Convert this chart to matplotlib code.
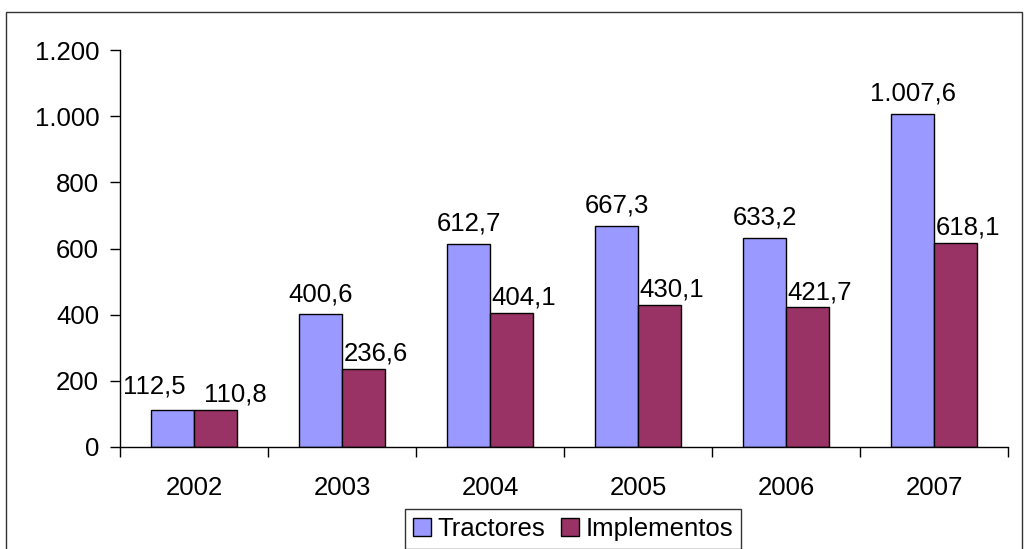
import matplotlib
matplotlib.use("Agg")
import matplotlib.pyplot as plt
from matplotlib.patches import Rectangle
import numpy as np

years = ["2002", "2003", "2004", "2005", "2006", "2007"]
tractores = [112.5, 400.6, 612.7, 667.3, 633.2, 1007.6]
implementos = [110.8, 236.6, 404.1, 430.1, 421.7, 618.1]
series_names = ["Tractores", "Implementos"]
yticks = [0, 200, 400, 600, 800, 1000, 1200]

plt.rcParams['font.family'] = ['Liberation Sans', 'DejaVu Sans']
FS = 18.5

def fmt(v):
    s = f"{v:,.1f}"
    return s.replace(",", "X").replace(".", ",").replace("X", ".")

fig = plt.figure(figsize=(10.25, 5.49), dpi=100)
ax = fig.add_axes([120/1025, 1-447/549, (1008-120)/1025, (447-50)/549])

x = np.arange(len(years))
w = 0.29
c1, c2 = "#9999FF", "#993366"
b1 = ax.bar(x - w/2, tractores, w, color=c1, edgecolor="black", linewidth=1, label=series_names[0])
b2 = ax.bar(x + w/2, implementos, w, color=c2, edgecolor="black", linewidth=1, label=series_names[1])

for i, (r, v) in enumerate(zip(b1, tractores)):
    dx = -13 if i == 0 else 0
    dy = 8 if i == 0 else 6
    ax.annotate(fmt(v), (r.get_x() + r.get_width()/2, v), xytext=(dx, dy),
                textcoords="offset points", ha="center", va="bottom", fontsize=FS)
for i, (r, v) in enumerate(zip(b2, implementos)):
    dx = 14 if i == 0 else 9
    dy = 2.5
    ax.annotate(fmt(v), (r.get_x() + r.get_width()/2, v), xytext=(dx, dy),
                textcoords="offset points", ha="center", va="bottom", fontsize=FS)

ax.set_xlim(-0.5, len(years) - 0.5)
ax.set_ylim(0, 1200)
ax.set_yticks(yticks)
ax.set_yticklabels([fmt(v)[:-2] for v in yticks], fontsize=FS)
ax.set_xticks(x)
ax.set_xticklabels(years, fontsize=FS)
ax.set_xticks(np.arange(-0.5, len(years)), minor=True)
ax.tick_params(axis="x", which="major", length=0, pad=21)
ax.tick_params(axis="x", which="minor", length=7, direction="out", width=1)
ax.tick_params(axis="y", length=7, direction="out", width=1, pad=8)
for s in ["top", "right"]:
    ax.spines[s].set_visible(False)
for s in ["left", "bottom"]:
    ax.spines[s].set_linewidth(1)

leg = fig.legend(handles=[b1, b2], loc="center", bbox_to_anchor=(573/1025, 1-529/549),
                 ncol=2, fontsize=FS, frameon=True, fancybox=False, edgecolor="black",
                 handlelength=0.7, handleheight=0.7, handletextpad=0.25, columnspacing=0.6,
                 borderpad=0.3, borderaxespad=0)
leg.get_frame().set_linewidth(1)

fig.patches.append(Rectangle((6/1025, -0.1), (1022-6)/1025, 1.1 - 12/549,
                             transform=fig.transFigure, fill=False, edgecolor="#333333",
                             linewidth=1))

fig.savefig("out.png", dpi=100)
